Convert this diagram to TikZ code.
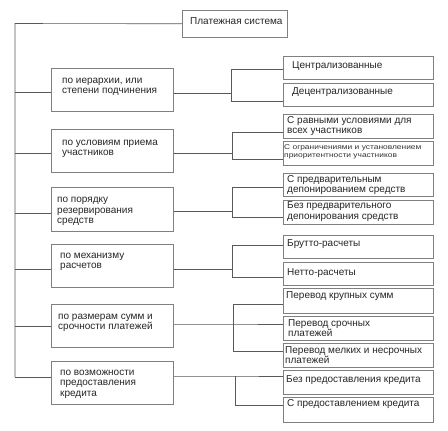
\documentclass[tikz,border=0pt]{standalone}
\usepackage{fontspec}
\setmainfont{Liberation Sans}
\newfontfamily\smallstretch[FakeStretch=1.2]{Liberation Sans}
\begin{document}
\begin{tikzpicture}[x=1pt,y=-1pt,
  box/.style={draw=black!50, line width=0.6pt, inner sep=0pt, anchor=north west, minimum width=#1},
  box/.default=150pt,
  txt/.style={font=\fontsize{10}{10.5}\selectfont, align=left, inner sep=0pt, anchor=base west, text=black!85},
  smalltxt/.style={font=\smallstretch\fontsize{7}{7.8}\selectfont, align=left, inner sep=0pt, anchor=base west, text=black!80},
  conn/.style={draw=black!65, line width=0.6pt}]
\useasboundingbox (0,0) rectangle (448,431);
\fill[white] (0,0) rectangle (448,431);

% root
\node[box=105pt, minimum height=27pt] (root) at (182,10) {};
\node[txt] (troot) at (190,24.5) {Платежная система};

% categories
\node[box=122pt, minimum height=43pt] (c1) at (51,68) {};
\node[box=122pt, minimum height=43pt] (c2) at (51,129) {};
\node[box=122pt, minimum height=44pt] (c3) at (51,187) {};
\node[box=122pt, minimum height=43pt] (c4) at (51,244) {};
\node[box=122pt, minimum height=43pt] (c5) at (51,304) {};
\node[box=122pt, minimum height=43pt] (c6) at (51,361) {};
% (base anchor = baseline of the last line)
\node[txt] (tc1) at (62,93.8) {по иерархии, или\\степени подчинения};
\node[txt] (tc2) at (62,155.5) {по условиям приема\\участников};
\node[txt] (tc3) at (57,223.5) {по порядку\\резервирования\\средств};
\node[txt] (tc4) at (60,268.8) {по механизму\\расчетов};
\node[txt] (tc5) at (58,329.5) {по размерам сумм и\\срочности платежей};
\node[txt] (tc6) at (60,396) {по возможности\\предоставления\\кредита};

% right boxes
\node[box, minimum height=23pt] (r1) at (283,56) {};
\node[box, minimum height=23pt] (r2) at (283,83) {};
\node[box, minimum height=24pt] (r3) at (283,114) {};
\node[box, minimum height=24pt] (r4) at (283,141) {};
\node[box, minimum height=23pt] (r5) at (283,173) {};
\node[box, minimum height=24pt] (r6) at (283,200) {};
\node[box, minimum height=23pt] (r7) at (283,235) {};
\node[box, minimum height=23pt] (r8) at (283,262) {};
\node[box, minimum height=25pt] (r9) at (283,288) {};
\node[box, minimum height=24pt] (r10) at (283,316) {};
\node[box, minimum height=24pt] (r11) at (283,343) {};
\node[box, minimum height=24pt] (r12) at (283,370) {};
\node[box, minimum height=25pt] (r13) at (283,397) {};
\node[txt] (tr1) at (292,68) {Централизованные};
\node[txt] (tr2) at (292,94) {Децентрализованные};
\node[txt] (tr3) at (287,133.5) {С равными условиями для\\всех участников};
\node[smalltxt] (tr4) at (284,157.3) {С ограничениями и установлением\\приоритентности участников};
\node[txt] (tr5) at (287,192.5) {С предварительным\\депонированием средств};
\node[txt] (tr6) at (287,219) {Без предварительного\\депонирования средств};
\node[txt] (tr7) at (287,246.5) {Брутто-расчеты};
\node[txt] (tr8) at (287,275) {Нетто-расчеты};
\node[txt] (tr9) at (286,298.5) {Перевод крупных сумм};
\node[txt] (tr10) at (288,336.5) {Перевод срочных\\платежей};
\node[txt] (tr11) at (285,363.5) {Перевод мелких и несрочных\\платежей};
\node[txt] (tr12) at (286,382) {Без предоставления кредита};
\node[txt] (tr13) at (287,406.5) {С предоставлением кредита};

% spine
\coordinate (sp0) at (15,23.5);
\coordinate (s1) at (15,92);
\coordinate (s2) at (15,153);
\coordinate (s3) at (15,213);
\coordinate (s4) at (15,269);
\coordinate (s5) at (15,326);
\coordinate (s6) at (15,377);
\draw[conn] (root.west) -- (sp0) -- (s6);
\foreach \i in {1,...,6} {\draw[conn] (s\i) -- (s\i -| c\i.west);}

% right brackets
\coordinate (j1) at (231,93.5); \coordinate (t1) at (231,68.8); \coordinate (b1) at (231,101);
\coordinate (j2) at (232,153.7); \coordinate (t2) at (232,132.3); \coordinate (b2) at (232,159);
\coordinate (j3) at (232,211.5); \coordinate (t3) at (232,187); \coordinate (b3) at (232,217);
\coordinate (j4) at (232,269); \coordinate (t4) at (232,245.7); \coordinate (b4) at (232,277.7);
\coordinate (j5) at (233,324); \coordinate (t5) at (233,304); \coordinate (b5) at (233,351);
\coordinate (j6) at (235,376); \coordinate (b6) at (235,405);

\draw[conn] (j1 -| c1.east) -- (j1);
\draw[conn] (t1 -| r1.west) -- (t1) -- (b1) -- (b1 -| r2.west);
\draw[conn] (j2 -| c2.east) -- (j2);
\draw[conn] (t2 -| r3.west) -- (t2) -- (b2) -- (b2 -| r4.west);
\draw[conn] (j3 -| c3.east) -- (j3);
\draw[conn] (t3 -| r5.west) -- (t3) -- (b3) -- (b3 -| r6.west);
\draw[conn] (j4 -| c4.east) -- (j4);
\draw[conn] (t4 -| r7.west) -- (t4) -- (b4) -- (b4 -| r8.west);
\draw[conn] (j5 -| c5.east) -- (j5) -- (j5 -| r10.west);
\draw[conn] (t5 -| r9.west) -- (t5) -- (b5) -- (b5 -| r11.west);
\draw[conn] (j6 -| c6.east) -- (j6) -- (j6 -| r12.west);
\draw[conn] (j6) -- (b6) -- (b6 -| r13.west);
\end{tikzpicture}
\end{document}
